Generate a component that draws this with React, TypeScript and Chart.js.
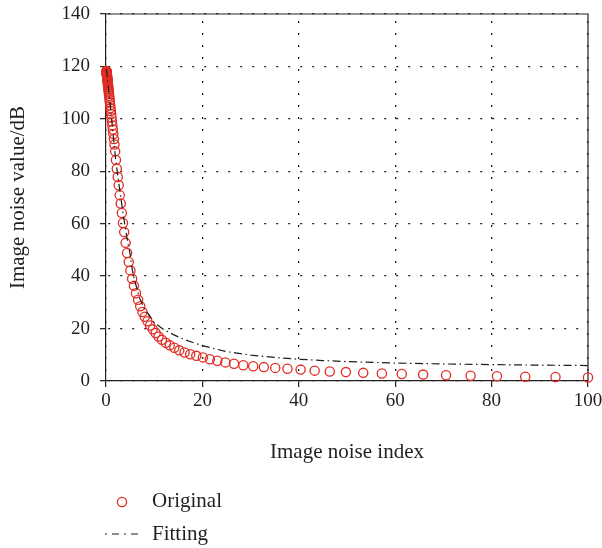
import { useEffect, useRef } from "react";
import { Chart, registerables } from "chart.js";

Chart.register(...registerables);

// Sampled image noise index (x) and measured noise value in dB (y)
const noiseIndex = [
  0.1, 0.1072, 0.115, 0.1233, 0.1322, 0.1417, 0.152, 0.163, 0.1748, 0.1874,
  0.2009, 0.2154, 0.231, 0.2477, 0.2656, 0.2848, 0.3054, 0.3275, 0.3511, 0.3765,
  0.4037, 0.4329, 0.4642, 0.4977, 0.5337, 0.5722, 0.6136, 0.6579, 0.7055, 0.7565,
  0.8111, 0.8697, 0.9326, 1.0, 1.0723, 1.1498, 1.2328, 1.3219, 1.4175, 1.5199,
  1.63, 1.76, 1.9, 2.06, 2.24, 2.44, 2.64, 2.84, 3.06, 3.28,
  3.52, 3.78, 4.07, 4.38, 4.72, 5.06, 5.42, 5.8, 6.22, 6.66,
  7.1, 7.56, 8.05, 8.6, 9.15, 9.7, 10.3, 10.9, 11.6, 12.4,
  13.219, 14.175, 15.199, 16.298, 17.475, 18.738, 20.092, 21.544, 23.101, 24.771,
  26.561, 28.48, 30.539, 32.745, 35.112, 37.649, 40.37, 43.288, 46.416, 49.77,
  53.367, 57.224, 61.359, 65.793, 70.548, 75.646, 81.113, 86.975, 93.26, 100,
];

const originalValues = [
  118.3, 118.2, 118.0, 117.9, 117.8, 117.6, 117.4, 117.2, 117.0, 116.8,
  116.6, 116.3, 116.1, 115.8, 115.5, 115.2, 114.8, 114.4, 114.0, 113.6,
  113.1, 112.6, 112.1, 111.5, 110.9, 110.3, 109.6, 108.8, 108.0, 107.1,
  106.2, 105.2, 104.1, 103.0, 101.8, 100.5, 99.0, 97.5, 95.9, 94.2,
  92.3, 90.2, 87.6, 84.3, 81.0, 77.8, 74.7, 70.9, 67.7, 64.1,
  60.3, 56.8, 52.7, 48.8, 45.4, 42.2, 39.0, 36.3, 33.5, 31.0,
  28.5, 26.3, 24.5, 22.8, 21.2, 19.7, 18.3, 17.0, 15.7, 14.6,
  13.6, 12.7, 11.7, 10.9, 10.2, 9.6, 9.0, 8.3, 7.7, 7.1,
  6.6, 6.0, 5.6, 5.3, 5.0, 4.7, 4.35, 3.95, 3.65, 3.4,
  3.1, 2.85, 2.65, 2.45, 2.2, 2.0, 1.8, 1.65, 1.5, 1.35,
];

// Fitted curve
const fitIndex = [
  0.1, 0.25, 0.5, 0.75, 1, 1.25, 1.5, 1.75, 2, 2.5, 3, 3.5, 4, 4.5, 5, 5.5, 6,
  7, 8, 9, 10, 12, 14, 16, 18, 20, 25, 30, 35, 40, 45, 50, 60, 70, 80, 90, 100,
];
const fitValues = [
  119, 116.5, 112, 107.5, 103, 98.5, 93.5, 89, 84.5, 77.5, 71, 64.5, 58.5, 53, 48.5, 42, 38,
  31.5, 27.5, 25.0, 22.3, 19.6, 17.7, 16.0, 14.7, 13.5, 11.2, 9.9, 9.0, 8.3, 7.8, 7.4, 6.85, 6.5, 6.25, 6.05, 5.9,
];

const xTicks = [0, 20, 40, 60, 80, 100];
const yTicks = [0, 20, 40, 60, 80, 100, 120, 140];
const seriesNames = ["Original", "Fitting"];
const xTitle = "Image noise index";
const yTitle = "Image noise value/dB";

const FONT = '"Liberation Serif", "Times New Roman", serif';
const TEXT = "#231f20";
const AXIS = "#231f20";
const GRID = "#1e1e1e";
const RED = "#e12b22";
const FIT_COLOR = "#1e1e1e";
const FIT_DASH = [8, 3.5, 1.5, 3.5];

// Top and right edges of the plot box
const framePlugin = {
  id: "frame",
  beforeDatasetsDraw(chart: any) {
    const { ctx, chartArea } = chart;
    ctx.save();
    ctx.strokeStyle = AXIS;
    ctx.lineWidth = 1.2;
    ctx.beginPath();
    ctx.moveTo(chartArea.left, chartArea.top);
    ctx.lineTo(chartArea.right, chartArea.top);
    ctx.lineTo(chartArea.right, chartArea.bottom);
    ctx.stroke();
    ctx.restore();
  },
};

// Stacked legend under the x-axis title
const legendPlugin = {
  id: "stackedLegend",
  afterDraw(chart: any) {
    const { ctx, chartArea } = chart;
    const left = chartArea.left;
    ctx.save();
    ctx.font = `21px ${FONT}`;
    ctx.fillStyle = TEXT;
    ctx.textAlign = "left";
    ctx.textBaseline = "middle";

    ctx.beginPath();
    ctx.arc(left + 16, 502, 4.6, 0, Math.PI * 2);
    ctx.strokeStyle = RED;
    ctx.lineWidth = 1.3;
    ctx.stroke();
    ctx.fillText(seriesNames[0], left + 46, 501);

    ctx.beginPath();
    ctx.setLineDash([2, 5, 7, 5]);
    ctx.moveTo(left - 1, 534);
    ctx.lineTo(left + 35, 534);
    ctx.strokeStyle = FIT_COLOR;
    ctx.lineWidth = 1.2;
    ctx.stroke();
    ctx.setLineDash([]);
    ctx.fillText(seriesNames[1], left + 46, 534);
    ctx.restore();
  },
};

// Let the layout padding alone decide the plot box; edge labels may overhang it
const noEdgePadding = (s: any) => {
  s.paddingTop = 0;
  s.paddingBottom = 0;
  s.paddingLeft = 0;
  s.paddingRight = 0;
};

export default function App() {
  const canvasRef = useRef<HTMLCanvasElement | null>(null);

  useEffect(() => {
    const canvas = canvasRef.current;
    if (!canvas) return;

    const chart = new Chart(canvas, {
      type: "scatter",
      data: {
        datasets: [
          {
            label: seriesNames[1],
            data: fitIndex.map((x, i) => ({ x, y: fitValues[i] })),
            showLine: true,
            borderColor: FIT_COLOR,
            borderWidth: 1.2,
            borderDash: FIT_DASH,
            pointRadius: 0,
            fill: false,
            clip: false,
            order: 0,
          },
          {
            label: seriesNames[0],
            data: noiseIndex.map((x, i) => ({ x, y: originalValues[i] })),
            showLine: false,
            pointStyle: "circle",
            pointRadius: 4.6,
            pointBorderWidth: 1.3,
            pointBorderColor: RED,
            pointBackgroundColor: "rgba(0,0,0,0)",
            borderColor: RED,
            backgroundColor: "rgba(0,0,0,0)",
            clip: false,
            order: 1,
          },
        ],
      },
      options: {
        responsive: false,
        animation: false,
        devicePixelRatio: 1,
        layout: { padding: { left: 0, top: 14, right: 14, bottom: 77 } },
        plugins: {
          legend: { display: false },
          tooltip: { enabled: false },
        },
        scales: {
          x: {
            type: "linear",
            min: 0,
            max: 100,
            afterBuildTicks: (s: any) => {
              s.ticks = xTicks.map((v) => ({ value: v }));
            },
            afterFit: (s: any) => {
              s.height = 90;
              noEdgePadding(s);
            },
            ticks: {
              font: { family: FONT, size: 19 },
              color: TEXT,
              padding: 3,
              maxRotation: 0,
            },
            grid: {
              color: GRID,
              lineWidth: 1.3,
              drawTicks: true,
              tickLength: 6,
              tickColor: AXIS,
              tickWidth: 1.2,
              tickBorderDash: [],
            },
            border: { display: true, color: AXIS, width: 1.2, dash: [2, 10], dashOffset: 5 },
            title: {
              display: true,
              text: xTitle,
              font: { family: FONT, size: 21 },
              color: TEXT,
              padding: { top: 0, bottom: 6 },
            },
          },
          y: {
            type: "linear",
            min: 0,
            max: 140,
            afterBuildTicks: (s: any) => {
              s.ticks = yTicks.map((v) => ({ value: v }));
            },
            afterFit: (s: any) => {
              s.width = 106;
              noEdgePadding(s);
            },
            ticks: {
              font: { family: FONT, size: 19 },
              color: TEXT,
              padding: 10,
            },
            grid: {
              color: GRID,
              lineWidth: 1.3,
              drawTicks: true,
              tickLength: 6,
              tickColor: AXIS,
              tickWidth: 1.2,
              tickBorderDash: [],
            },
            border: { display: true, color: AXIS, width: 1.2, dash: [2, 10], dashOffset: 10 },
            title: {
              display: true,
              text: yTitle,
              font: { family: FONT, size: 21 },
              color: TEXT,
              padding: { top: 6, bottom: 0 },
            },
          },
        },
      },
      plugins: [framePlugin, legendPlugin],
    } as any);

    return () => chart.destroy();
  }, []);

  return (
    <div style={{ position: "fixed", left: 0, top: 0, width: 602, height: 548, background: "#fff" }}>
      <canvas ref={canvasRef} width={602} height={548} style={{ display: "block" }} />
    </div>
  );
}
